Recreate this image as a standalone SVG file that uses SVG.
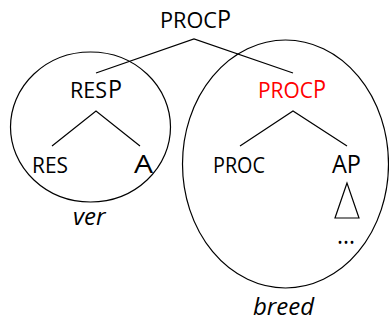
<svg xmlns="http://www.w3.org/2000/svg" width="389" height="322" viewBox="0 0 389 322">
<style>
text{font-family:"Open Sans","Liberation Sans",sans-serif;fill:#000}
.sc{font-size:21.5px}
.big{font-size:26px}
.it{font-size:24px;font-style:italic}
.red{fill:#ff0000}
.ln{stroke:#000;stroke-width:1.2;fill:none}
</style>
<rect width="389" height="322" fill="#fff"/>
<g id="ellipses">
<ellipse class="ln" cx="90.5" cy="127" rx="80" ry="75"/>
<ellipse class="ln" cx="285.5" cy="164" rx="103" ry="124"/>
</g>
<g id="connectors">
<polyline class="ln" points="96,73 194,39 293,73"/>
<polyline class="ln" points="52,146 96,111 140,146"/>
<polyline class="ln" points="240,146 293,111 347,146"/>
<polygon class="ln" points="347,183 335,218 359,218"/>
</g>
<g id="n-procp-top">
<text class="sc" x="160" y="28" textLength="57" lengthAdjust="spacingAndGlyphs">PROC</text>
<text class="big" x="217" y="28" textLength="14" lengthAdjust="spacingAndGlyphs">P</text>
</g>
<g id="n-resp">
<text class="sc" x="70" y="98" textLength="37" lengthAdjust="spacingAndGlyphs">RES</text>
<text class="big" x="108" y="98" textLength="14" lengthAdjust="spacingAndGlyphs">P</text>
</g>
<g id="n-procp-red">
<text class="sc red" x="258" y="98" textLength="55" lengthAdjust="spacingAndGlyphs">PROC</text>
<text class="big red" x="313" y="98" textLength="13" lengthAdjust="spacingAndGlyphs">P</text>
</g>
<g id="n-res">
<text class="sc" x="32" y="173" textLength="36" lengthAdjust="spacingAndGlyphs">RES</text>
</g>
<g id="n-a">
<text class="big" x="134" y="173" font-size="28" textLength="19" lengthAdjust="spacingAndGlyphs">A</text>
</g>
<g id="n-proc">
<text class="sc" x="213" y="173" textLength="52" lengthAdjust="spacingAndGlyphs">PROC</text>
</g>
<g id="n-ap">
<text class="big" x="332" y="173" textLength="29" lengthAdjust="spacingAndGlyphs">AP</text>
</g>
<g id="n-dots">
<text class="big" x="337" y="244" font-size="22" textLength="18" lengthAdjust="spacingAndGlyphs">...</text>
</g>
<g id="n-ver">
<text class="it" x="73" y="225">ver</text>
</g>
<g id="n-breed">
<text class="it" x="253" y="315">breed</text>
</g>
</svg>
